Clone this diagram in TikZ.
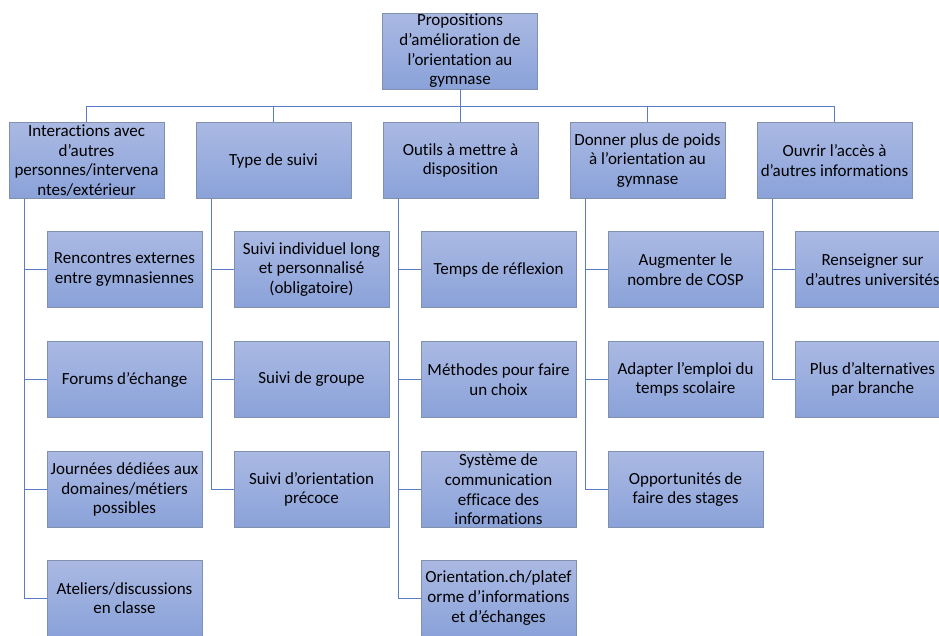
\documentclass[tikz,border=0pt]{standalone}
\usepackage{fontspec}
\setmainfont[Ligatures=NoCommon]{Carlito}
\usepackage{xcolor}
\usepackage{tikz}
\definecolor{boxtop}{HTML}{AAB9E3}
\definecolor{boxbot}{HTML}{8AA2D9}
\definecolor{boxline}{HTML}{8090AD}
\definecolor{linkblue}{HTML}{5A7CC2}
\tikzset{
boite/.style={draw=boxline,line width=0.8pt,top color=boxtop,bottom color=boxbot,minimum width=155pt,minimum height=76pt,inner sep=0pt,align=center,font=\fontsize{17}{19.7}\selectfont},
lien/.style={draw=linkblue,line width=1pt}
}
\begin{document}
\begin{tikzpicture}[x=1pt,y=-1pt]
\useasboundingbox(0,0)rectangle(939,635);
\node[boite](racine)at(460,51){Propositions\\d’amélioration de\\l’orientation au\\gymnase};

\node[boite](inter)at(86.5,160.5){Interactions avec\\d’autres\\personnes/intervena\\ntes/extérieur};
\node[boite](suivi)at(273.5,160.5){Type de suivi};
\node[boite](outils)at(460.5,160.5){Outils à mettre à\\disposition};
\node[boite](poids)at(647.5,160.5){Donner plus de poids\\à l’orientation au\\gymnase};
\node[boite](acces)at(834.5,160.5){Ouvrir l’accès à\\d’autres informations};

\node[boite](inter1)at(124.5,269.5){Rencontres externes\\entre gymnasiennes};
\node[boite](inter2)at(124.5,379.5){Forums d’échange};
\node[boite](inter3)at(124.5,489.5){Journées dédiées aux\\domaines/métiers\\possibles};
\node[boite](inter4)at(124.5,598){Ateliers/discussions\\en classe};

\node[boite](suivi1)at(311.5,269.5){Suivi individuel long\\et personnalisé\\(obligatoire)};
\node[boite](suivi2)at(311.5,379.5){Suivi de groupe};
\node[boite](suivi3)at(311.5,489.5){Suivi d’orientation\\précoce};

\node[boite](outils1)at(498.5,269.5){Temps de réflexion};
\node[boite](outils2)at(498.5,379.5){Méthodes pour faire\\un choix};
\node[boite](outils3)at(498.5,489.5){Système de\\communication\\efficace des\\informations};
\node[boite](outils4)at(498.5,598){Orientation.ch/platef\\orme d’informations\\et d’échanges};

\node[boite](poids1)at(685.5,269.5){Augmenter le\\nombre de COSP};
\node[boite](poids2)at(685.5,379.5){Adapter l’emploi du\\temps scolaire};
\node[boite](poids3)at(685.5,489.5){Opportunités de\\faire des stages};

\node[boite](acces1)at(872.5,269.5){Renseigner sur\\d’autres universités};
\node[boite](acces2)at(872.5,379.5){Plus d’alternatives\\par branche};

\foreach\n in{inter,suivi,outils,poids,acces}
\draw[lien](racine.south)--++(0,17)-|(\n.north);

\foreach\p/\c in{inter/inter1,inter/inter2,inter/inter3,inter/inter4,suivi/suivi1,suivi/suivi2,suivi/suivi3,outils/outils1,outils/outils2,outils/outils3,outils/outils4,poids/poids1,poids/poids2,poids/poids3,acces/acces1,acces/acces2}
\draw[lien]([xshift=16pt]\p.south west)|-(\c.west);
\end{tikzpicture}
\end{document}
